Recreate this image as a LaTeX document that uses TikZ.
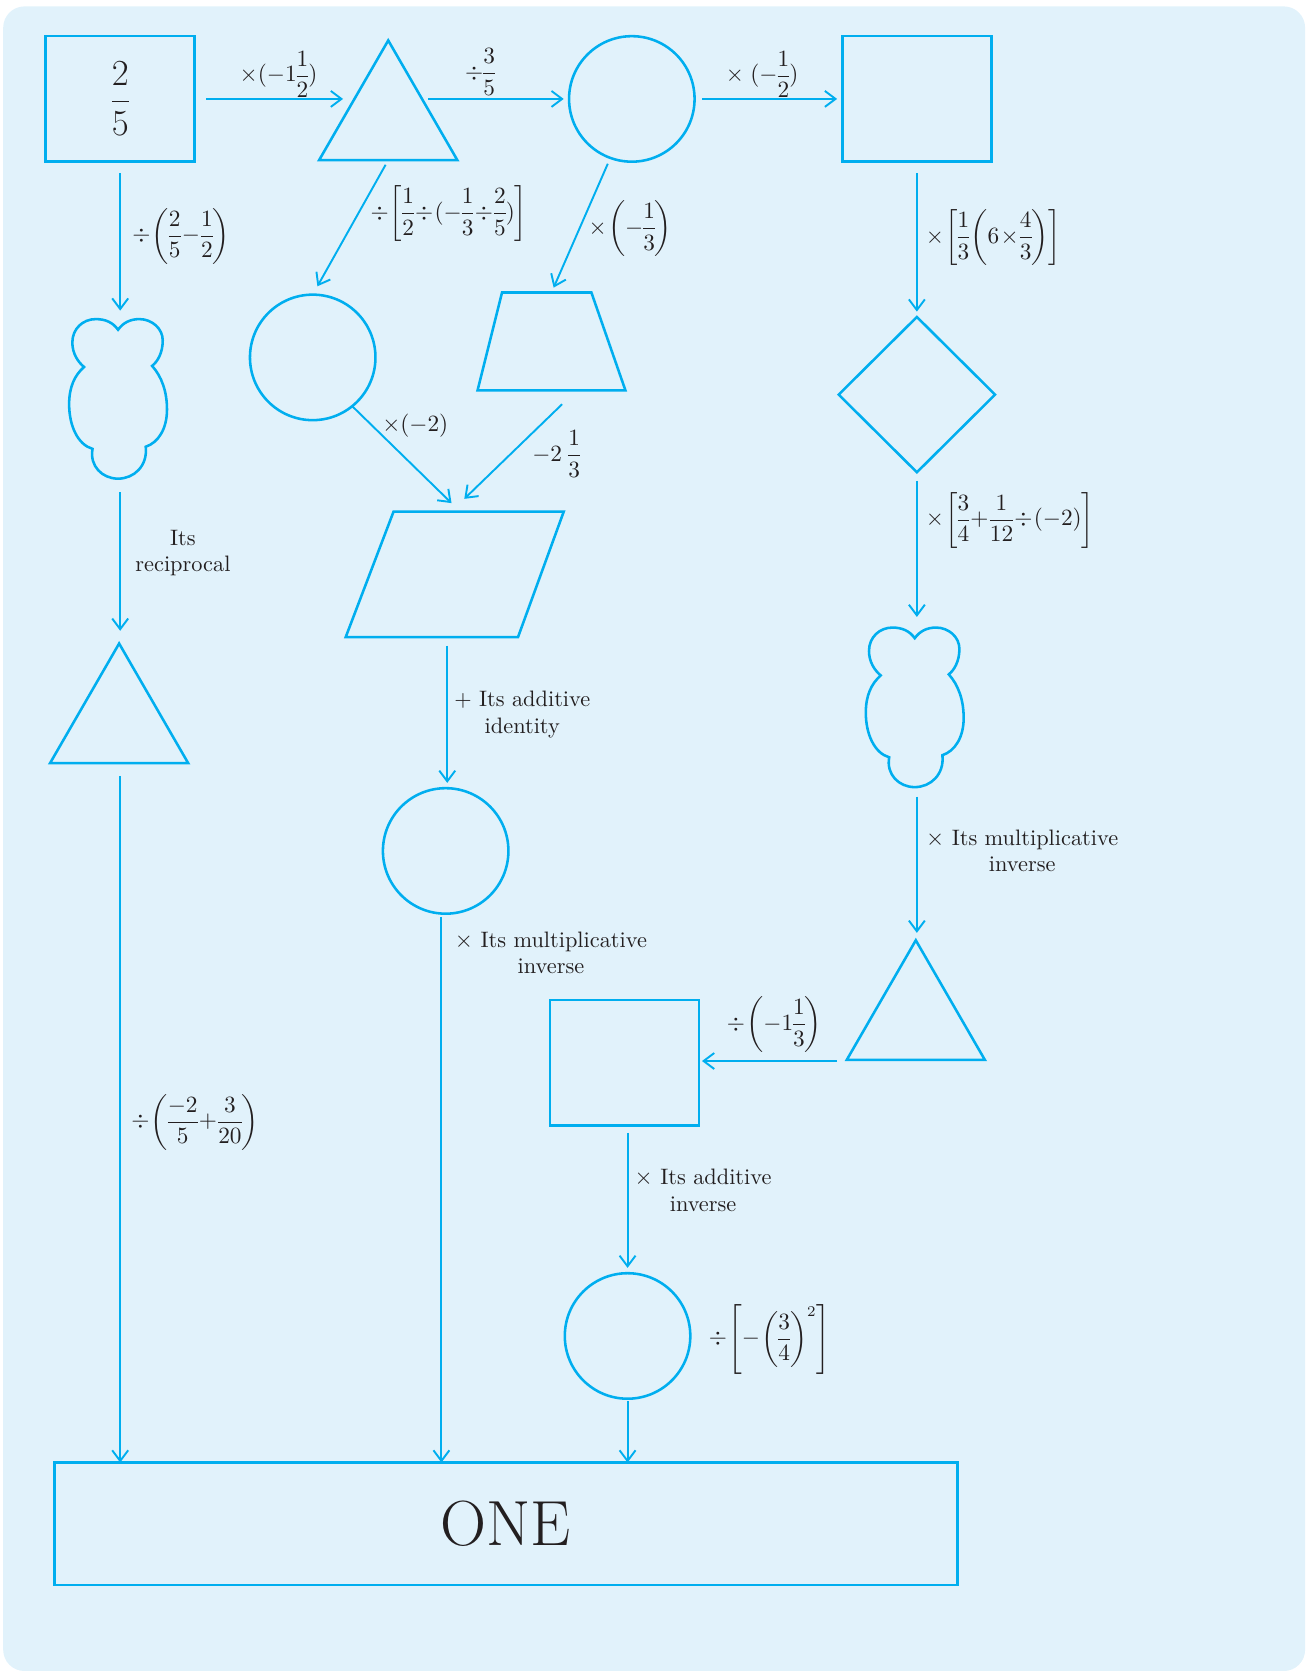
\documentclass[tikz,border=0pt]{standalone}
\usepackage{amsmath}
\usetikzlibrary{arrows.meta,shapes.geometric,calc}
\definecolor{cy}{HTML}{00AEEF}
\definecolor{bgc}{HTML}{E1F2FB}
\definecolor{ink}{HTML}{231F20}
\tikzset{
  blob/.pic={
    \draw[cy,line width=1.2pt]
      (0,10) .. controls (5,3) and (12,0) .. (20,0)
      .. controls (32,0) and (42,9) .. (42,20)
      .. controls (42,32) and (37,40) .. (32,44)
      .. controls (41,54) and (46,68) .. (46,85)
      .. controls (46,103) and (38,116) .. (26,120)
      .. controls (28,138) and (15,150) .. (0,150)
      .. controls (-15,150) and (-27,138) .. (-24,122)
      .. controls (-38,118) and (-46,100) .. (-46,80)
      .. controls (-46,64) and (-41,53) .. (-32,45)
      .. controls (-38,40) and (-43,32) .. (-43,22)
      .. controls (-43,9) and (-33,0) .. (-21,0)
      .. controls (-12,0) and (-5,3) .. (0,10) -- cycle;
  }
}
\begin{document}
\begin{tikzpicture}[x=0.5pt,y=-0.5pt,
  shp/.style={draw=cy,line width=1.2pt,inner sep=0pt,outer sep=0pt},
  ghost/.style={inner sep=0pt,outer sep=0pt},
  arr/.style={draw=cy,line width=0.9pt,-{Straight Barb[length=5pt,width=7.5pt]}},
  lbl/.style={text=ink,font=\fontsize{10.5}{12.5}\selectfont,inner sep=0pt,align=center,
    execute at begin node={\thinmuskip=1mu\medmuskip=1mu\thickmuskip=2mu\nulldelimiterspace=0pt\delimitershortfall=6pt}},
  lw/.style={lbl,anchor=west},
  tri/.style={shp,regular polygon,regular polygon sides=3,minimum size=75pt},
  circ/.style={shp,circle,minimum size=59pt},
  sq/.style={shp,rectangle,minimum width=70pt,minimum height=59pt},
]
\useasboundingbox (0,0) rectangle (1229,1571);
\fill[bgc,rounded corners=10pt] (3,6) rectangle (1227,1571);

% shapes
\node[sq,text=ink,font=\fontsize{19}{22}\selectfont] (A) at (113,93) {$\dfrac{2}{5}$};
\node[tri] (B) at (365,113) {};
\node[circ] (C) at (594,93) {};
\node[sq] (D) at (862,93) {};
\pic at (111,300) {blob};
\node[ghost,minimum width=46pt,minimum height=75pt] (E) at (111,375) {};
\node[circ] (F) at (294,336) {};
\draw[cy,line width=1.2pt] (472,275) -- (556,275) -- (588,367) -- (449,367) -- cycle;
\node[ghost,minimum width=69.5pt,minimum height=46pt] (G) at (518.5,321) {};
\node[shp,diamond,minimum width=73.5pt,minimum height=73pt] (H) at (862,371) {};
\draw[cy,line width=1.2pt] (370,481) -- (530,481) -- (487,599) -- (325,599) -- cycle;
\node[ghost,minimum width=102.5pt,minimum height=59pt] (I) at (427.5,540) {};
\node[tri] (J) at (112,680) {};
\pic at (860,590) {blob};
\node[ghost,minimum width=46pt,minimum height=75pt] (K) at (860,665) {};
\node[circ] (L) at (419,800) {};
\node[tri] (M) at (861,959) {};
\node[sq] (N) at (587,999) {};
\node[circ] (O) at (590,1256) {};
\node[shp,rectangle,minimum width=424.5pt,minimum height=57.5pt,text=ink,font=\fontsize{30}{32}\selectfont] (ONE) at (475.5,1432.5) {ONE};

% connectors
\draw[arr] ($(A.east)+(11,0)$) -- ($(A.east -| B.side 1)+(-10,0)$);
\draw[arr] ($(C.west -| B.side 3)+(5,0)$) -- ($(C.west)+(-5,0)$);
\draw[arr] ($(C.east)+(7,0)$) -- ($(D.west)+(-5,0)$);
\draw[arr] ($(A.south)+(0,11)$) -- ($(A.south |- E.north)+(0,-8)$);
\draw[arr,shorten <=2.5pt,shorten >=4.5pt] (B.side 2) -- (F.north);
\draw[arr,shorten <=3pt,shorten >=2.5pt] (C.250) -- (G.north);
\draw[arr] ($(D.south)+(0,11)$) -- ($(H.north)+(0,-5)$);
\draw[arr] (F.-51) -- ($(I.north)+(-3,-8)$);
\draw[arr] ($(G.south)+(10,13)$) -- ($(I.north)+(9,-12)$);
\draw[arr] ($(A.south |- E.south)+(0,13)$) -- ($(A.south |- J.corner 1)+(0,-12)$);
\draw[arr] ($(H.south)+(0,8)$) -- ($(H.south |- K.north)+(0,-10)$);
\draw[arr] ($(I.south)+(-7,8)$) -- ($(I.south |- L.north)+(-7,-5)$);
\draw[arr] ($(H.south |- K.south)+(0,9)$) -- ($(H.south |- M.corner 1)+(0,-7)$);
\draw[arr] ($(L.south)+(-4,3)$) -- ($(L.south |- ONE.north)+(-4,0)$);
\draw[arr] ($(A.south |- J.side 2)+(0,12)$) -- (A.south |- ONE.north);
\draw[arr] ($(M.corner 2)+(-9,1)$) -- ($(M.corner 2 -| N.east)+(3,1)$);
\draw[arr] ($(N.south)+(3,7)$) -- ($(N.south |- O.north)+(3,-5)$);
\draw[arr] ($(O.south)+(0,2)$) -- (O.south |- ONE.north);

% labels
\node[lw] (l1) at (225,70) {$\times(-1\dfrac{1}{2})$};
\node[lw] (l2) at (437,68) {$\div\dfrac{3}{5}$};
\node[lw] (l3) at (682,70) {$\times\mkern5mu(-\dfrac{1}{2})$};
\node[lw] (l4) at (124,222) {$\div\left(\dfrac{2}{5}-\dfrac{1}{2}\right)$};
\node[lw] (l5) at (348,201) {$\div\left[\dfrac{1}{2}\div(-\dfrac{1}{3}\div\dfrac{2}{5})\right]$};
\node[lw] (l6) at (553,215) {$\times\left(-\dfrac{1}{3}\right)$};
\node[lw] (l7) at (870,223) {$\times\left[\dfrac{1}{3}\left(6\times\dfrac{4}{3}\right)\right]$};
\node[lw] (l8) at (359,400) {$\times(-2)$};
\node[lw] (l9) at (500,427) {$-2\mkern5mu\dfrac{1}{3}$};
\node[lw] (l10) at (870,489) {$\times\left[\dfrac{3}{4}+\dfrac{1}{12}\div(-2)\right]$};
\node[lbl] (l11) at (172,520) {Its\\reciprocal};
\node[lbl] (l12) at (491,672) {+ Its additive\\identity};
\node[lbl] (l13) at (961,800) {$\times$ Its multiplicative\\inverse};
\node[lbl] (l14) at (518,896) {$\times$ Its multiplicative\\inverse};
\node[lw] (l15) at (123,1055) {$\div\left(\dfrac{-2}{5}+\dfrac{3}{20}\right)$};
\node[lw] (l16) at (683,963) {$\div\left(-1\dfrac{1}{3}\right)$};
\node[lbl] (l17) at (661,1119) {$\times$ Its additive\\inverse};
\node[lw] (l18) at (666,1259) {$\div\left[-\left(\dfrac{3}{4}\right)^{2}\right]$};
\end{tikzpicture}
\end{document}
